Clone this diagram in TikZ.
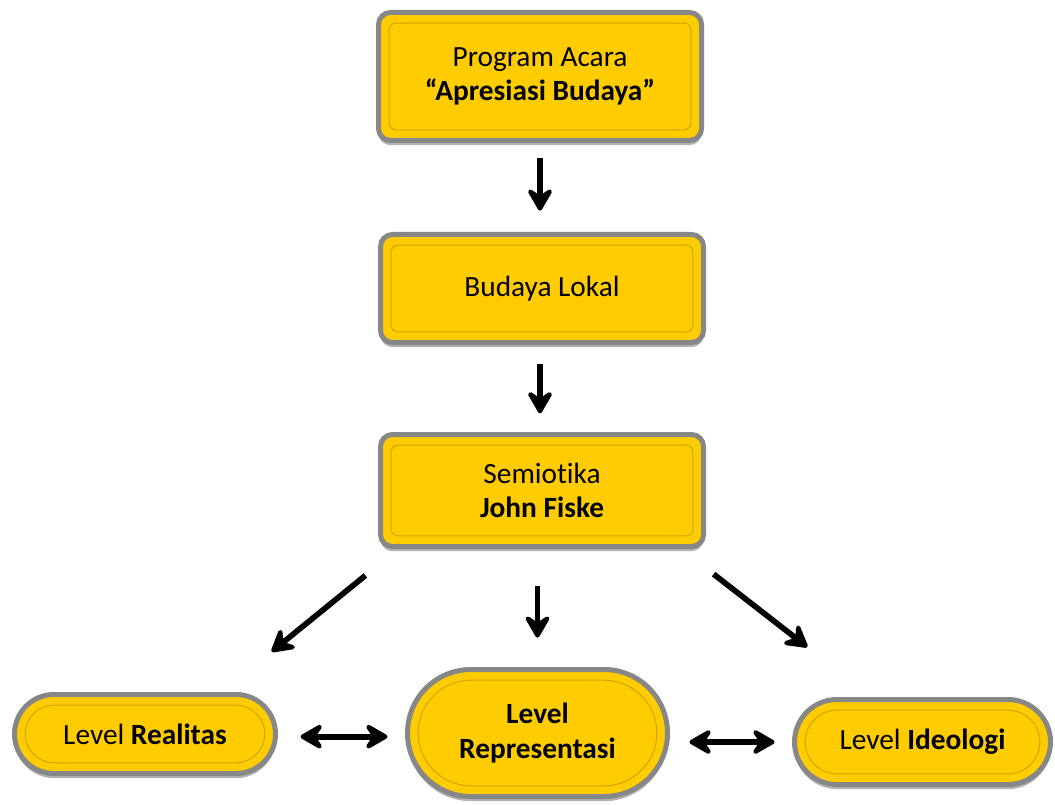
\documentclass[tikz,border=0pt]{standalone}
\usepackage{fontspec}
\setmainfont{Carlito}[Ligatures=NoCommon]
\usepackage{xcolor}
\usepackage{tikz}
\usetikzlibrary{arrows.meta, positioning, shadows}

\definecolor{boxyellow}{RGB}{255,204,0}
\definecolor{rimgray}{RGB}{135,135,135}
\definecolor{innerline}{RGB}{210,165,0}

\begin{document}
\begin{tikzpicture}[
    card/.style={draw=rimgray, line width=3.75pt, fill=boxyellow, rounded corners=9pt,
        minimum width=242.25pt, align=center, font=\fontsize{22pt}{26pt}\selectfont,
        drop shadow={shadow xshift=0pt, shadow yshift=-3.5pt, opacity=0.3, fill=black},
        path picture={\draw[innerline, line width=0.8pt, rounded corners=5pt]
            ([shift={(8pt,-8pt)}]path picture bounding box.north west) rectangle
            ([shift={(-8pt,8pt)}]path picture bounding box.south east);}},
    pill/.style={draw=rimgray, line width=3.75pt, fill=boxyellow, rounded corners=#1,
        align=center, font=\fontsize{22pt}{26pt}\selectfont,
        drop shadow={shadow xshift=0pt, shadow yshift=-3.5pt, opacity=0.3, fill=black},
        path picture={\draw[innerline, line width=0.8pt, rounded corners=#1-8pt]
            ([shift={(8pt,-8pt)}]path picture bounding box.north west) rectangle
            ([shift={(-8pt,8pt)}]path picture bounding box.south east);}},
    arrow/.style={-{Stealth[length=21pt, width=24pt, inset=8pt, round]}, line width=4.25pt, black},
    twoway/.style={{Stealth[length=21pt, width=24pt, inset=8pt, round]}-{Stealth[length=21pt, width=24pt, inset=8pt, round]}, line width=4.25pt, black}
]
\useasboundingbox (0,0) rectangle (791.25pt,-603.75pt);

% Nodes column
\node (acara) [card, minimum height=96pt] at (405pt,-57.375pt) {Program Acara\\\textbf{``Apresiasi Budaya''}};
\node (lokal) [card, minimum height=81pt, below=66.75pt of acara, xshift=1.5pt] {Budaya Lokal};
\node (fiske) [card, minimum height=84pt, below=65.25pt of lokal] {Semiotika\\\textbf{John Fiske}};

% Nodes level row
\node (repr) [pill=47.6pt, minimum width=195pt, minimum height=95.25pt, below=88.5pt of fiske, xshift=-3.375pt] {\textbf{Level}\\\textbf{Representasi}};
\node (real) [pill=29.6pt, minimum width=195.75pt, minimum height=59.25pt, left=95.25pt of repr, yshift=-0.75pt] {Level \textbf{Realitas}};
\node (ideo) [pill=31.9pt, minimum width=192pt, minimum height=63.75pt, right=91.5pt of repr, yshift=-6.75pt] {Level \textbf{Ideologi}};

% Paths
\draw [arrow, shorten <=10.9pt, shorten >=16pt] (acara.south) -- (acara.south |- lokal.north);
\draw [arrow, shorten <=14.6pt, shorten >=14pt] ([xshift=-1.5pt]lokal.south) -- ([xshift=-1.5pt]lokal.south |- fiske.north);
\draw [arrow, shorten <=28pt, shorten >=22pt] (repr.north |- fiske.south) -- (repr.north);
\draw [arrow, shorten <=31.5pt, shorten >=48pt] ([xshift=15pt]fiske.south west) -- ([xshift=57.75pt]real.north);
\draw [arrow, shorten <=30.7pt, shorten >=61pt] ([xshift=-18.5pt]fiske.south east) -- ([xshift=-38.25pt]ideo.north);
\draw [twoway, shorten <=16.9pt, shorten >=13.1pt] ([yshift=-2pt]real.east) -- ([yshift=-2pt]real.east -| repr.west);
\draw [twoway, shorten <=14.6pt, shorten >=13.1pt] (ideo.west -| repr.east) -- (ideo.west);

\end{tikzpicture}
\end{document}
